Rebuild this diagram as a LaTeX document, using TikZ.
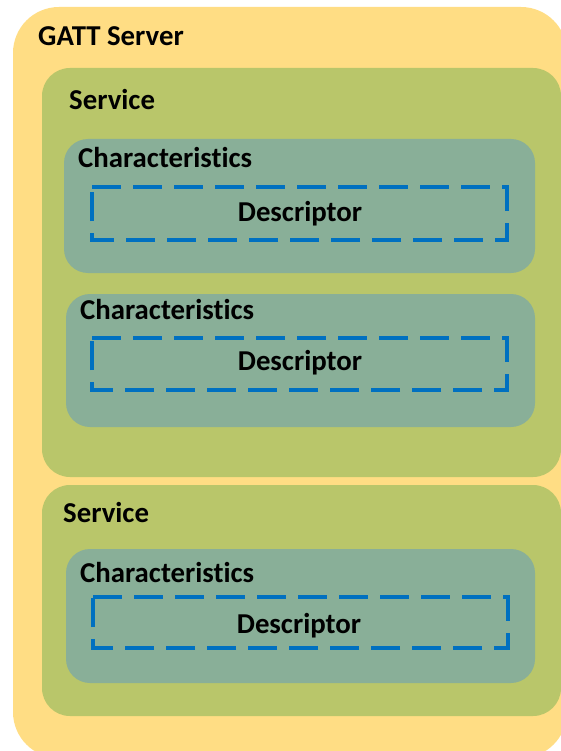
\documentclass[tikz,border=0pt]{standalone}
\usepackage{fontspec}
\setmainfont{Carlito}[Ligatures={NoCommon,NoRequired,NoContextual}]
\definecolor{gattyellow}{HTML}{FFDD84}
\definecolor{servgreen}{HTML}{B9C66A}
\definecolor{chargreen}{HTML}{89AF98}
\definecolor{descblue}{HTML}{0070C0}
\tikzset{
  gattbox/.style={fill=gattyellow, draw=none, rounded corners=46pt},
  servbox/.style={fill=servgreen, draw=none, rounded corners=28pt},
  charbox/.style={fill=chargreen, draw=none, rounded corners=24pt},
  descbox/.style={draw=descblue, line width=3.2pt, dash pattern=on 29pt off 12pt, fill=none},
  lbl/.style={font=\bfseries\fontsize{28.8}{30}\selectfont, inner sep=0pt, anchor=base west, text=black},
  dlbl/.style={font=\bfseries\fontsize{28.8}{30}\selectfont, inner sep=0pt, anchor=base, text=black},
}
\begin{document}
\begin{tikzpicture}[x=1pt,y=-1pt]
\useasboundingbox (0,0) rectangle (561,751);
\clip (0,0) rectangle (561,751);
\fill[white] (0,0) rectangle (561,751);
% outer GATT server
\draw[gattbox] (13,7) rectangle (567,758);
\node[lbl] (gatt) at (38,46) {GATT Server};
% Service 1
\draw[servbox] (42,68) rectangle (561,477);
\node[lbl] (s1) at (69,110) {Service};
% Characteristic 1
\draw[charbox] (64,139) rectangle (535,273);
\node[lbl] (c1) at (78,168) {Characteristics};
\draw[descbox] (92,187) -- (507,187) -- (507,240) -- (92,240) -- cycle;
\node[dlbl] (d1) at (300,222) {Descriptor};
% Characteristic 2
\draw[charbox] (66,294) rectangle (535,427);
\node[lbl] (c2) at (80,319) {Characteristics};
\draw[descbox] (92,338) -- (507,338) -- (507,390) -- (92,390) -- cycle;
\node[dlbl] (d2) at (300,370) {Descriptor};
% Service 2
\draw[servbox] (42,485) rectangle (561,716);
\node[lbl] (s2) at (63,522) {Service};
% Characteristic 3
\draw[charbox] (66,549) rectangle (535,683);
\node[lbl] (c3) at (80,582) {Characteristics};
\draw[descbox] (93,597) -- (508,597) -- (508,648) -- (93,648) -- cycle;
\node[dlbl] (d3) at (299,633) {Descriptor};
\end{tikzpicture}
\end{document}
